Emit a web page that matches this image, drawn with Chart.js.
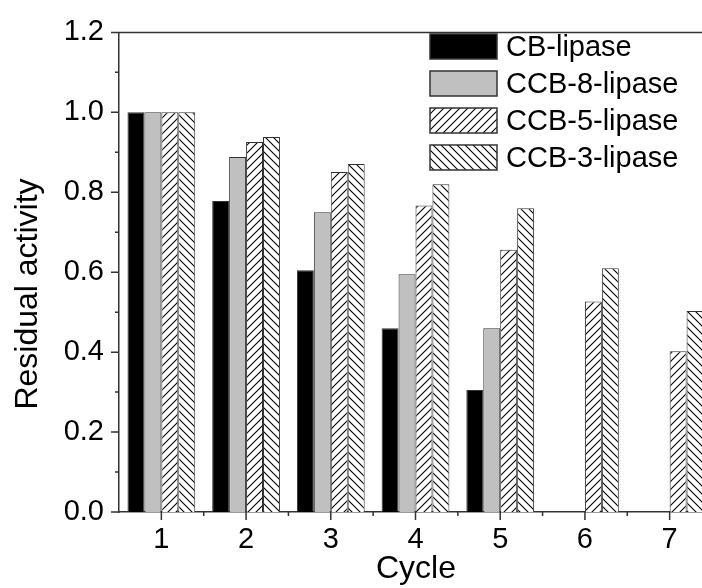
<!DOCTYPE html>
<html>
<head>
<meta charset="utf-8">
<script src="https://cdn.jsdelivr.net/npm/chart.js@4.4.0/dist/chart.umd.min.js"></script>
<style>
  html, body { margin: 0; padding: 0; background: #fff; overflow: hidden; }
  #wrap { position: absolute; left: 0; top: 0; width: 712px; height: 588px; }
</style>
</head>
<body>
<div id="wrap"><canvas id="chart" width="712" height="588"></canvas></div>
<script>
// data
const cycles = ['1', '2', '3', '4', '5', '6', '7'];
const seriesNames = ['CB-lipase', 'CCB-8-lipase', 'CCB-5-lipase', 'CCB-3-lipase'];
const cbLipase = [1.0, 0.778, 0.605, 0.46, 0.305, null, null];
const ccb8Lipase = [1.0, 0.888, 0.75, 0.595, 0.46, null, null];
const ccb5Lipase = [1.0, 0.926, 0.851, 0.767, 0.656, 0.527, 0.402];
const ccb3Lipase = [1.0, 0.938, 0.871, 0.82, 0.76, 0.61, 0.503];
const yTicks = [0, 0.2, 0.4, 0.6, 0.8, 1.0, 1.2];

const FONT = "'Liberation Sans', Arial, sans-serif";
const AXIS = '#333';

// diagonal hatch fill
function hatch(dir) {
    const c = document.createElement('canvas');
    c.width = 8; c.height = 8;
    const g = c.getContext('2d');
    g.fillStyle = '#fff';
    g.fillRect(0, 0, 8, 8);
    g.strokeStyle = '#000';
    g.lineWidth = 1.1;
    g.beginPath();
    if (dir === '/') {
        g.moveTo(-1, 9); g.lineTo(9, -1);
        g.moveTo(-1, 1); g.lineTo(1, -1);
        g.moveTo(7, 9); g.lineTo(9, 7);
    } else {
        g.moveTo(-1, -1); g.lineTo(9, 9);
        g.moveTo(7, -1); g.lineTo(9, 1);
        g.moveTo(-1, 7); g.lineTo(1, 9);
    }
    g.stroke();
    return g.createPattern(c, 'repeat');
}

// ticks, frame, titles and legend drawn on top
const decorations = {
    id: 'decorations',
    afterDraw(chart) {
        const ctx = chart.ctx;
        const xs = chart.scales.x, ys = chart.scales.y;
        const a = chart.chartArea;
        ctx.save();
        ctx.strokeStyle = AXIS;
        ctx.lineWidth = 1.5;
        ctx.beginPath();
        // top frame line
        ctx.moveTo(a.left, a.top); ctx.lineTo(a.right, a.top);
        // y ticks
        yTicks.forEach(v => {
            const y = ys.getPixelForValue(v);
            ctx.moveTo(a.left - 8, y); ctx.lineTo(a.left, y);
        });
        for (let i = 0; i < yTicks.length - 1; i++) {
            const y = ys.getPixelForValue((yTicks[i] + yTicks[i + 1]) / 2);
            ctx.moveTo(a.left - 4, y); ctx.lineTo(a.left, y);
        }
        // x ticks
        cycles.forEach((c, i) => {
            const x = xs.getPixelForValue(i);
            ctx.moveTo(x, a.bottom); ctx.lineTo(x, a.bottom + 8);
            if (i < cycles.length - 1) {
                const xm = (x + xs.getPixelForValue(i + 1)) / 2;
                ctx.moveTo(xm, a.bottom); ctx.lineTo(xm, a.bottom + 4);
            }
        });
        ctx.stroke();

        // axis titles
        ctx.fillStyle = '#000';
        ctx.font = '32px ' + FONT;
        ctx.textAlign = 'center';
        ctx.textBaseline = 'alphabetic';
        ctx.fillText('Cycle', 416, 578);
        ctx.save();
        ctx.translate(37, 294);
        ctx.rotate(-Math.PI / 2);
        ctx.fillText('Residual activity', 0, 0);
        ctx.restore();

        // legend
        ctx.font = '29px ' + FONT;
        ctx.textAlign = 'left';
        ctx.textBaseline = 'middle';
        chart.data.datasets.forEach((ds, i) => {
            const bx = 430, by = 34 + i * 37, bw = 67, bh = 25;
            ctx.fillStyle = ds.backgroundColor;
            ctx.fillRect(bx, by, bw, bh);
            ctx.strokeStyle = AXIS;
            ctx.lineWidth = 1.5;
            ctx.strokeRect(bx, by, bw, bh);
            ctx.fillStyle = '#000';
            ctx.fillText(ds.label, 506, by + bh / 2 + 1);
        });
        ctx.restore();
    }
};

const ctx = document.getElementById('chart').getContext('2d');
new Chart(ctx, {
    type: 'bar',
    data: {
        labels: cycles,
        datasets: [
            { label: seriesNames[0], data: cbLipase, backgroundColor: '#000000' },
            { label: seriesNames[1], data: ccb8Lipase, backgroundColor: '#c0c0c0' },
            { label: seriesNames[2], data: ccb5Lipase, backgroundColor: hatch('/') },
            { label: seriesNames[3], data: ccb3Lipase, backgroundColor: hatch('\\') }
        ].map(d => Object.assign(d, {
            borderColor: AXIS,
            borderWidth: 1,
            borderSkipped: 'bottom',
            categoryPercentage: 0.8,
            barPercentage: 1.0
        }))
    },
    options: {
        responsive: false,
        devicePixelRatio: 1,
        animation: false,
        layout: { padding: { left: 0, right: 0, top: 29, bottom: 0 } },
        plugins: {
            legend: { display: false },
            tooltip: { enabled: false }
        },
        scales: {
            x: {
                offset: true,
                grid: { display: false, drawTicks: false },
                border: { display: true, color: AXIS, width: 1.5 },
                ticks: {
                    color: '#000',
                    font: { family: FONT, size: 29 },
                    padding: 11,
                    maxRotation: 0
                },
                afterFit(scale) { scale.height = 76; }
            },
            y: {
                min: 0,
                max: 1.2,
                grid: { display: false, drawTicks: false },
                border: { display: true, color: AXIS, width: 1.5 },
                ticks: {
                    color: '#000',
                    font: { family: FONT, size: 29 },
                    padding: 15,
                    stepSize: 0.2,
                    callback: v => v.toFixed(1)
                },
                afterFit(scale) { scale.width = 119; }
            }
        }
    },
    plugins: [decorations]
});
</script>
</body>
</html>
